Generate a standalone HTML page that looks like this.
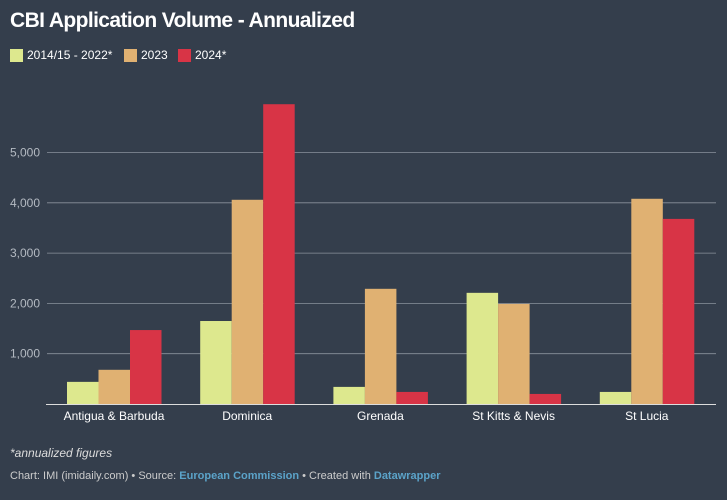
<!DOCTYPE html>
<html><head><meta charset="utf-8"><style>
body{margin:0;width:727px;height:500px;background:#343e4c;font-family:"Liberation Sans",sans-serif;color:#fff;overflow:hidden;position:relative}
.t{position:absolute;left:10px;top:9px;font-size:21px;font-weight:bold;letter-spacing:-0.6px}
.lg{position:absolute;top:48px;font-size:12px;display:flex;align-items:center}
.sw{width:13px;height:13px;margin-right:4px;display:inline-block}
.note{position:absolute;left:10px;top:446px;font-size:12px;font-style:italic;color:#ddd}
.src{position:absolute;left:10px;top:470px;font-size:11px;color:#ccc}
.src b{color:#5ba3c9}
</style></head><body>
<div class="t">CBI Application Volume - Annualized</div>
<div class="lg" style="left:10px"><span class="sw" style="background:#dde88e"></span>2014/15 - 2022*</div>
<div class="lg" style="left:124px"><span class="sw" style="background:#e0b172"></span>2023</div>
<div class="lg" style="left:178px"><span class="sw" style="background:#d83446"></span>2024*</div>
<svg id="c" width="727" height="500" style="position:absolute;left:0;top:0"></svg>
<div class="note">*annualized figures</div>
<div class="src">Chart: IMI (imidaily.com) • Source: <b>European Commission</b> • Created with <b>Datawrapper</b></div>
<script>
const categories=["Antigua & Barbuda","Dominica","Grenada","St Kitts & Nevis","St Lucia"];
const s2014=[440,1650,340,2210,240];
const s2023=[680,4060,2290,1990,4080];
const s2024=[1470,5960,240,200,3680];
const ticks=[1000,2000,3000,4000,5000];
const tickLabels=["1,000","2,000","3,000","4,000","5,000"];
const colors=["#dde88e","#e0b172","#d83446"];
const svg=document.getElementById('c');const NS="http://www.w3.org/2000/svg";
const y=v=>404-v*0.0503;
const xc=i=>114+i*133.2;
function mk(t,a){const e=document.createElementNS(NS,t);for(const k in a)e.setAttribute(k,a[k]);svg.appendChild(e);return e;}
ticks.forEach((t,i)=>{
const l=mk('line',{x1:47,x2:716,y1:y(t),y2:y(t),stroke:'#8a929c','stroke-width':0.8});


const tx=mk('text',{x:40,y:y(t)+4,fill:'#b4bac2','font-size':12,'text-anchor':'end','font-family':'Liberation Sans'});tx.textContent=tickLabels[i];


});
[s2014,s2023,s2024].forEach((s,j)=>s.forEach((v,i)=>{
const r=mk('rect',{x:xc(i)-47+j*31.5,y:y(v),width:31.5,height:404-y(v),fill:colors[j]});


}));
const base=mk('line',{x1:46,x2:716,y1:404.5,y2:404.5,stroke:'#ddd','stroke-width':1});


categories.forEach((c,i)=>{
const tx=mk('text',{x:xc(i),y:420,fill:'#fff','font-size':12,'text-anchor':'middle','font-family':'Liberation Sans'});tx.textContent=c;


});
</script>
</body></html>
